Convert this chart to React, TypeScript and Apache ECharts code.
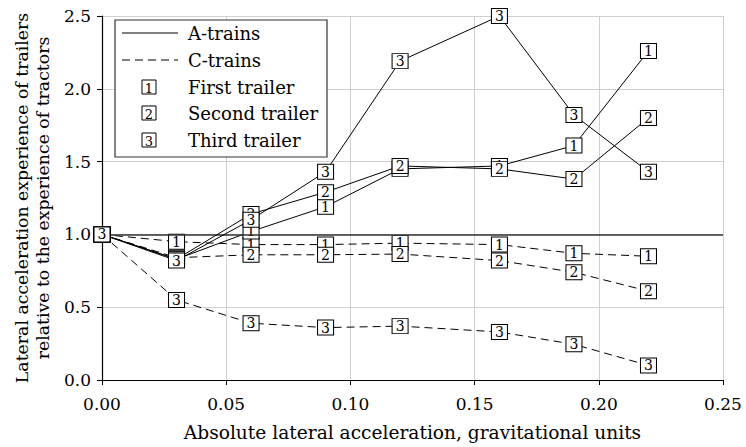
import React, { useEffect, useRef } from "react";
import * as echarts from "echarts";

const xValues = [0, 0.03, 0.06, 0.09, 0.12, 0.16, 0.19, 0.22];
const aFirst = [1.0, 0.83, 1.02, 1.19, 1.45, 1.47, 1.61, 2.26];
const aSecond = [1.0, 0.83, 1.14, 1.29, 1.47, 1.45, 1.38, 1.8];
const aThird = [1.0, 0.82, 1.1, 1.43, 2.19, 2.5, 1.82, 1.43];
const cFirst = [1.0, 0.95, 0.93, 0.93, 0.94, 0.93, 0.87, 0.85];
const cSecond = [1.0, 0.84, 0.86, 0.86, 0.865, 0.82, 0.74, 0.61];
const cThird = [1.0, 0.55, 0.39, 0.36, 0.37, 0.33, 0.245, 0.1];

const legendItems = ["A-trains", "C-trains", "First trailer", "Second trailer", "Third trailer"];
const xTitle = "Absolute lateral acceleration, gravitational units";
const yTitle = "Lateral acceleration experience of trailers\nrelative to the experience of tractors";

const FONT = "DejaVu Serif";

function makeSeries(name: string, ys: number[], num: string, dashed: boolean, z: number, extra: any = {}) {
  return {
    name,
    type: "line",
    z,
    data: xValues.map((x, i) => [x, ys[i]]),
    symbol: "rect",
    symbolSize: [16, 15],
    showAllSymbol: true,
    lineStyle: { color: "#000", width: 1, type: dashed ? [8, 5] : "solid" },
    itemStyle: { color: "#fff", borderColor: "#000", borderWidth: 1 },
    label: {
      show: true,
      position: "inside",
      formatter: num,
      fontFamily: FONT,
      fontSize: 14,
      color: "#000",
    },
    emphasis: { disabled: true },
    ...extra,
  };
}

export default function App() {
  const ref = useRef<HTMLDivElement>(null);
  useEffect(() => {
    if (!ref.current) return;
    const chart = echarts.init(ref.current, null, { renderer: "svg" });
    const lx = 115, ly = 20, lw = 212, lh = 137;
    const rowY = [33, 60, 87, 113, 140];
    const legendGraphics: any[] = [
      { type: "rect", shape: { x: lx, y: ly, width: lw, height: lh }, style: { fill: "#fff", stroke: "#333", lineWidth: 1.2 }, z: 100 },
      { type: "line", shape: { x1: 122, y1: rowY[0], x2: 178, y2: rowY[0] }, style: { stroke: "#000", lineWidth: 1 }, z: 101 },
      { type: "line", shape: { x1: 122, y1: rowY[1], x2: 178, y2: rowY[1] }, style: { stroke: "#000", lineWidth: 1, lineDash: [8, 5] }, z: 101 },
    ];
    ["1", "2", "3"].forEach((n, i) => {
      legendGraphics.push({
        type: "rect",
        shape: { x: 142, y: rowY[i + 2] - 7, width: 14, height: 14 },
        style: { fill: "#fff", stroke: "#000", lineWidth: 1 },
        z: 101,
      });
      legendGraphics.push({
        type: "text",
        x: 149,
        y: rowY[i + 2] + 1,
        style: { text: n, fontFamily: FONT, fontSize: 13, fill: "#000", align: "center", verticalAlign: "middle" },
        z: 102,
      });
    });
    legendItems.forEach((t, i) => {
      legendGraphics.push({
        type: "text",
        x: 188,
        y: rowY[i],
        style: { text: t, fontFamily: FONT, fontSize: 18, fill: "#000", align: "left", verticalAlign: "middle" },
        z: 102,
      });
    });

    chart.setOption({
      animation: false,
      backgroundColor: "#fff",
      textStyle: { fontFamily: FONT },
      grid: { left: 102, right: 23, top: 16, bottom: 67 },
      xAxis: {
        type: "value",
        min: 0,
        max: 0.25,
        interval: 0.05,
        name: xTitle,
        nameLocation: "middle",
        nameGap: 43,
        nameTextStyle: { fontFamily: FONT, fontSize: 18.6, color: "#000" },
        axisLine: { show: true, lineStyle: { color: "#000", width: 1.2 } },
        axisTick: { show: true, length: 5, lineStyle: { color: "#000" } },
        axisLabel: { fontFamily: FONT, fontSize: 17, color: "#000", margin: 15, formatter: (v: number) => v.toFixed(2) },
        splitLine: { show: true, lineStyle: { color: "#d0d0d0", width: 1 } },
      },
      yAxis: {
        type: "value",
        min: 0,
        max: 2.5,
        interval: 0.5,
        name: yTitle,
        nameLocation: "middle",
        nameGap: 49,
        nameRotate: 90,
        nameTextStyle: { fontFamily: FONT, fontSize: 17.3, color: "#000", lineHeight: 21 },
        axisLine: { show: true, lineStyle: { color: "#000", width: 1.2 } },
        axisTick: { show: true, length: 5, lineStyle: { color: "#000" } },
        axisLabel: { fontFamily: FONT, fontSize: 17, color: "#000", margin: 11, formatter: (v: number) => v.toFixed(1) },
        splitLine: { show: true, lineStyle: { color: "#d0d0d0", width: 1 } },
      },
      series: [
        makeSeries("C first", cFirst, "1", true, 2, {
          markLine: {
            silent: true,
            symbol: "none",
            label: { show: false },
            lineStyle: { color: "#333", width: 1.5, type: "solid" },
            data: [{ yAxis: 1 }],
          },
        }),
        makeSeries("C second", cSecond, "2", true, 3),
        makeSeries("A first", aFirst, "1", false, 4),
        makeSeries("A second", aSecond, "2", false, 5),
        makeSeries("C third", cThird, "3", true, 6),
        makeSeries("A third", aThird, "3", false, 7),
      ],
      graphic: legendGraphics,
    });
    return () => chart.dispose();
  }, []);
  return <div ref={ref} style={{ width: 746, height: 447, position: "absolute", left: 0, top: 0 }} />;
}
